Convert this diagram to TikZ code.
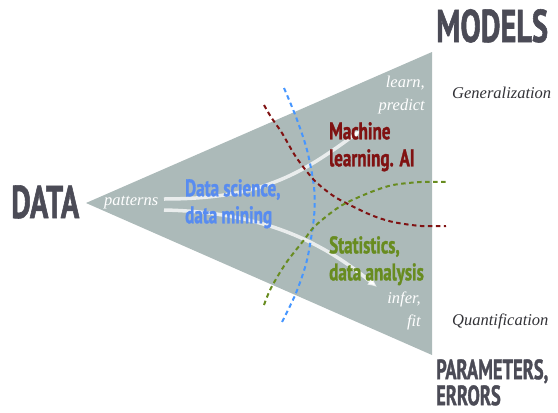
\documentclass[tikz,border=0pt]{standalone}
\usepackage{fontspec}
\usetikzlibrary{arrows.meta}
\newfontfamily\headfont[FakeStretch=0.66, BoldFeatures={FakeBold=1.2}]{PT Sans}
\newfontfamily\condfont[FakeStretch=0.71, BoldFeatures={FakeBold=1.2}]{PT Sans}
\newfontfamily\italfont{Liberation Serif}
\definecolor{trifill}{RGB}{172,186,185}
\definecolor{headgray}{RGB}{75,75,86}
\definecolor{dsblue}{RGB}{88,140,240}
\definecolor{dashblue}{RGB}{70,150,255}
\definecolor{mlred}{RGB}{128,18,18}
\definecolor{stgreen}{RGB}{104,140,32}
\definecolor{italgray}{RGB}{50,50,55}
\tikzset{
  head/.style={inner sep=0pt, text=headgray, font=\headfont\bfseries\fontsize{46}{46}\selectfont},
  field/.style={inner sep=0pt, align=left, font=\condfont\bfseries\fontsize{24}{27}\selectfont},
  whiteital/.style={inner sep=0pt, text=white, font=\italfont\itshape\fontsize{16.5}{23}\selectfont},
  sideital/.style={inner sep=0pt, text=italgray, font=\italfont\itshape\fontsize{16.5}{20}\selectfont},
  flow/.style={draw=white, draw opacity=0.75, line width=3.5pt, -{Latex[length=9pt,width=9pt]}},
  border/.style={line width=2pt, dash pattern=on 4.5pt off 3.5pt}
}
\begin{document}
\begin{tikzpicture}[x=1pt,y=-1pt]
\useasboundingbox (0,0) rectangle (558,413);
% triangle
\coordinate (tip) at (86,203);
\coordinate (tr) at (432,52);
\coordinate (br) at (432,355);
\fill[trifill] (tip) -- (tr) -- (br) -- cycle;
% flows
\coordinate (s1) at (164,199);
\coordinate (e1) at (361,130);
\coordinate (s2) at (164,210);
\coordinate (e2) at (377,287);
\draw[flow] (s1) .. controls (260,199) and (300,175) .. (e1);
\draw[flow] (s2) .. controls (260,212) and (320,240) .. (e2);
% dashed borders
\draw[border, dashblue] plot[smooth] coordinates {(284,88) (296,117) (307,150) (314,187) (314,217) (307,260) (296,293) (282,322)};
\draw[border, mlred] plot[smooth] coordinates {(264,105) (271,117) (282,133) (296,157) (314,180) (332,195) (346,203) (371,215) (393,222) (421,226) (446,226)};
\draw[border, stgreen] plot[smooth] coordinates {(264,305) (271,288) (286,263) (304,240) (314,227) (332,212) (346,203) (371,192) (393,185) (421,182) (446,182)};
% headings
\node[head, anchor=base west] (data) at (11,218) {DATA};
\node[head, anchor=base west] (models) at (436,42) {MODELS};
\node[head, anchor=north west, align=left, font=\headfont\bfseries\fontsize{28}{26}\selectfont] (params) at (436,359) {PARAMETERS,\\ERRORS};
% fields
\node[field, text=dsblue, anchor=north west] (ds) at (185,179) {Data science,\\data mining};
\node[field, text=mlred, anchor=north west] (ml) at (329,122) {Machine\\learning. AI};
\node[field, text=stgreen, anchor=north west] (st) at (329,236) {Statistics,\\data analysis};
% white italic labels
\node[whiteital, anchor=base west] (pat) at (104,205) {patterns};
\node[whiteital, anchor=north east, align=right] (learn) at (425,76) {learn,\\predict};
\node[whiteital, anchor=north east, align=right] (infer) at (421,292) {infer,\\fit};
% side labels
\node[sideital, anchor=base west] (gen) at (452,98) {Generalization};
\node[sideital, anchor=base west] (quant) at (452,325) {Quantification};
\end{tikzpicture}
\end{document}
